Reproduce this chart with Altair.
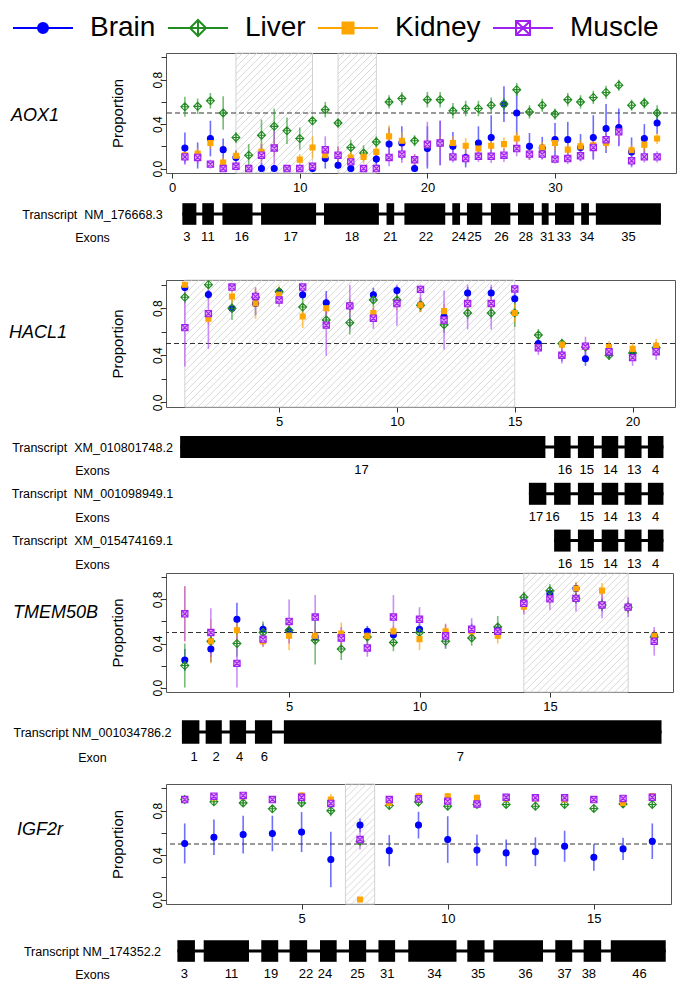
import json
import altair as alt
import pandas as pd

FONT = "Liberation Sans"
TISSUES = ["Brain", "Liver", "Kidney", "Muscle"]
STROKES = ["#0000FF", "#228B22", "#FFA500", "#A020F0"]
ERRCOLS = ["#2020FF", "#2E9A2E", "#FFA500", "#B050F5"]
PT_SHAPE = ["circle", "M0,-1L1,0L0,1L-1,0ZM0,-1V1M-1,0H1", "square",
            "M-1,-1H1V1H-1ZM-1,-1L1,1M1,-1L-1,1"]
PT_FILL = ["#0000FF", "transparent", "#FFA500", "#DDA8F7"]
PT_SIZE = [36, 64, 25, 40]
LEG_SHAPE = [
    "M-3,0H3M0.5,0A0.5,0.5,0,1,1,-0.5,0A0.5,0.5,0,1,1,0.5,0Z",
    "M-3,0H3M0,-0.8L0.8,0L0,0.8L-0.8,0ZM0,-0.8V0.8",
    "M-3,0H3M-0.55,-0.55H0.55V0.55H-0.55Z",
    "M-3,0H3M-0.7,-0.7H0.7V0.7H-0.7ZM-0.7,-0.7L0.7,0.7M0.7,-0.7L-0.7,0.7",
]
LEG_FILL = ["#0000FF", "#FFFFFF", "#FFA500", "transparent"]
YDOM = [-0.04, 1.04]

# ---------------- AOX1 ----------------
aox1_brain = [0.185, 0.115, 0.27, 0.17, 0.10, 0.0, 0.0, 0.0, 0.0, 0.0, 0.0, 0.09, 0.03, 0.0, 0.0, 0.085, 0.22, 0.23, 0.0,
              0.18, 0.23, 0.20, 0.10, 0.23, 0.28, 0.58, 0.50, 0.20, 0.185, 0.26, 0.26, 0.19, 0.28, 0.36, 0.37, 0.15, 0.27, 0.41]
aox1_liver = [0.556, 0.56, 0.61, 0.50, 0.28, 0.12, 0.30, 0.38, 0.34, 0.27, 0.43, 0.53, 0.41, 0.19, 0.14, 0.24, 0.60, 0.63, 0.25,
              0.62, 0.62, 0.52, 0.54, 0.54, 0.57, 0.58, 0.71, 0.51, 0.57, 0.49, 0.62, 0.60, 0.64, 0.685, 0.75, 0.57, 0.59, 0.50]
aox1_kidney = [0.12, 0.135, 0.23, 0.055, 0.115, 0.0, 0.15, 0.19, 0.0, 0.08, 0.19, 0.12, 0.115, 0.10, 0.105, 0.15, 0.29, 0.25, 0.08,
               0.21, 0.23, 0.23, 0.205, 0.18, 0.205, 0.22, 0.27, 0.13, 0.19, 0.23, 0.17, 0.20, 0.21, 0.23, 0.33, 0.165, 0.215, 0.27]
aox1_muscle = [0.105, 0.10, 0.04, 0.0, 0.02, 0.0, 0.12, 0.185, 0.0, 0.0, 0.02, 0.17, 0.12, 0.06, 0.0, 0.0, 0.10, 0.13, 0.08,
               0.22, 0.23, 0.105, 0.09, 0.11, 0.11, 0.12, 0.18, 0.13, 0.13, 0.085, 0.09, 0.115, 0.19, 0.26, 0.33, 0.07, 0.105, 0.105]
aox1_brain_err = [0.14, 0.12, 0.16, 0.10, 0.06, 0.02, 0.05, 0.02, 0.02, 0.02, 0.02, 0.10, 0.06, 0.05, 0.02, 0.06, 0.15, 0.15, 0.04,
                  0.20, 0.20, 0.13, 0.09, 0.15, 0.20, 0.16, 0.20, 0.12, 0.10, 0.15, 0.16, 0.12, 0.20, 0.22, 0.17, 0.13, 0.13, 0.10]
aox1_liver_err = [0.09, 0.07, 0.07, 0.15, 0.05, 0.10, 0.14, 0.16, 0.12, 0.10, 0.04, 0.07, 0.04, 0.07, 0.07, 0.05, 0.06, 0.06, 0.05,
                  0.07, 0.07, 0.07, 0.07, 0.07, 0.07, 0.06, 0.06, 0.06, 0.06, 0.05, 0.06, 0.06, 0.06, 0.06, 0.05, 0.05, 0.05, 0.07]
aox1_kidney_err = [0.05, 0.05, 0.05, 0.05, 0.05, 0.02, 0.08, 0.08, 0.02, 0.05, 0.10, 0.06, 0.08, 0.06, 0.06, 0.06, 0.10, 0.08, 0.05,
                   0.06, 0.06, 0.06, 0.07, 0.06, 0.06, 0.06, 0.06, 0.05, 0.05, 0.07, 0.06, 0.06, 0.06, 0.06, 0.06, 0.05, 0.06, 0.05]
aox1_muscle_err = [0.07, 0.06, 0.04, 0.03, 0.04, 0.02, 0.10, 0.20, 0.02, 0.02, 0.02, 0.12, 0.08, 0.06, 0.02, 0.02, 0.08, 0.08, 0.05,
                   0.20, 0.20, 0.05, 0.05, 0.05, 0.06, 0.06, 0.07, 0.05, 0.05, 0.04, 0.05, 0.05, 0.10, 0.07, 0.12, 0.06, 0.05, 0.05]
aox1_hatch = [(5, 11), (13, 16)]
aox1_ticks = [0, 10, 20, 30]
aox1_ex_start = [0.8, 2.36, 3.94, 6.97, 11.9, 16.8, 18.2, 21.95, 23.1, 24.98, 27.1, 28.96, 30.0, 32.05, 33.2]
aox1_ex_end = [1.9, 3.27, 6.3, 11.28, 16.2, 17.4, 21.4, 22.56, 24.3, 26.5, 28.35, 29.5, 31.5, 32.66, 38.3]
aox1_ex_name = ["3", "11", "16", "17", "18", "21", "22", "24", "25", "26", "28", "31", "33", "34", "35"]
aox1_ex_lab = [1.15, 2.8, 5.45, 9.3, 14.1, 17.1, 19.9, 22.45, 23.7, 25.8, 27.7, 29.4, 30.7, 32.5, 35.75]

# ---------------- HACL1 ----------------
hacl1_brain = [0.976, 0.917, 0.80, 0.84, 0.94, 0.914, 0.846, 0.82, 0.914, 0.95, 0.83, 0.73, 0.93, 0.93, 0.88, 0.50, 0.40, 0.37, 0.42, 0.42, 0.463]
hacl1_liver = [0.893, 1.0, 0.80, 0.893, 0.94, 0.81, 0.70, 0.677, 0.87, 0.87, 0.825, 0.66, 0.76, 0.76, 0.76, 0.573, 0.50, 0.47, 0.40, 0.42, 0.463]
hacl1_kidney = [1.0, 0.71, 0.90, 0.84, 0.914, 0.73, 0.80, 0.82, 0.76, 0.84, 0.825, 0.775, 0.84, 0.84, 0.76, 0.47, 0.49, 0.47, 0.47, 0.454, 0.48]
hacl1_muscle = [0.635, 0.754, 0.98, 0.90, 0.87, 0.98, 0.656, 0.82, 0.715, 0.84, 0.96, 0.70, 0.84, 0.84, 0.964, 0.463, 0.40, 0.478, 0.43, 0.38, 0.43]
hacl1_brain_err = [0.03, 0.04, 0.04, 0.10, 0.04, 0.04, 0.10, 0.05, 0.06, 0.04, 0.06, 0.07, 0.05, 0.05, 0.05, 0.05, 0.05, 0.06, 0.05, 0.05, 0.05]
hacl1_liver_err = [0.05, 0.03, 0.10, 0.05, 0.04, 0.08, 0.06, 0.10, 0.06, 0.05, 0.05, 0.07, 0.05, 0.05, 0.12, 0.05, 0.04, 0.04, 0.04, 0.04, 0.04]
hacl1_kidney_err = [0.03, 0.05, 0.06, 0.13, 0.08, 0.10, 0.06, 0.06, 0.06, 0.06, 0.06, 0.06, 0.06, 0.06, 0.08, 0.04, 0.04, 0.04, 0.05, 0.05, 0.06]
hacl1_muscle_err = [0.33, 0.30, 0.04, 0.08, 0.06, 0.04, 0.26, 0.20, 0.09, 0.19, 0.10, 0.25, 0.22, 0.22, 0.08, 0.06, 0.07, 0.08, 0.06, 0.07, 0.07]
hacl1_hatch = [(1, 15)]
hacl1_ticks = [5, 10, 15, 20]
hacl1_small_start = [16.67, 17.68, 18.69, 19.66, 20.65]
hacl1_small_end = [17.37, 18.36, 19.39, 20.38, 21.31]
hacl1_small_name = ["16", "15", "14", "13", "4"]
hacl1_small_lab = [17.13, 18.05, 19.06, 20.07, 20.98]
hacl1_t1_exon17 = (0.8, 16.3, 8.5)
hacl1_t2_exon17 = (15.6, 16.34, 15.9)

# ---------------- TMEM50B ----------------
tmem_brain = [0.25, 0.35, 0.62, 0.53, 0.51, 0.46, 0.47, 0.51, 0.48, 0.53, 0.47, 0.53, 0.52, 0.775, 0.85, 0.90, 0.75, 0.73, 0.47]
tmem_liver = [0.20, 0.42, 0.40, 0.50, 0.52, 0.43, 0.35, 0.46, 0.41, 0.50, 0.42, 0.45, 0.55, 0.82, 0.88, 0.81, 0.75, 0.73, 0.46]
tmem_kidney = [0.67, 0.42, 0.52, 0.42, 0.47, 0.47, 0.49, 0.47, 0.51, 0.44, 0.51, 0.51, 0.47, 0.735, 0.81, 0.90, 0.88, 0.73, 0.47]
tmem_muscle = [0.67, 0.50, 0.22, 0.44, 0.60, 0.64, 0.45, 0.36, 0.64, 0.62, 0.47, 0.53, 0.51, 0.765, 0.805, 0.81, 0.75, 0.73, 0.42]
tmem_brain_err = [0.10, 0.12, 0.15, 0.05, 0.05, 0.05, 0.05, 0.05, 0.05, 0.05, 0.06, 0.05, 0.06, 0.06, 0.05, 0.05, 0.06, 0.05, 0.05]
tmem_liver_err = [0.20, 0.06, 0.12, 0.10, 0.04, 0.22, 0.10, 0.07, 0.08, 0.06, 0.07, 0.07, 0.10, 0.05, 0.06, 0.05, 0.05, 0.05, 0.05]
tmem_kidney_err = [0.25, 0.20, 0.12, 0.05, 0.13, 0.06, 0.10, 0.05, 0.05, 0.10, 0.06, 0.05, 0.07, 0.05, 0.05, 0.06, 0.07, 0.05, 0.05]
tmem_muscle_err = [0.25, 0.22, 0.25, 0.07, 0.20, 0.20, 0.10, 0.08, 0.20, 0.11, 0.11, 0.10, 0.07, 0.10, 0.10, 0.12, 0.12, 0.09, 0.13]
tmem_hatch = [(14, 18)]
tmem_ticks = [5, 10, 15]
tmem_ex_start = [0.89, 1.8, 2.72, 3.69, 4.8]
tmem_ex_end = [1.56, 2.42, 3.35, 4.35, 19.28]
tmem_ex_name = ["1", "2", "4", "6", "7"]
tmem_ex_lab = [1.36, 2.2, 3.1, 4.05, 11.57]

# ---------------- IGF2r ----------------
igf_brain = [0.505, 0.56, 0.585, 0.595, 0.607, 0.36, 0.67, 0.44, 0.67, 0.54, 0.445, 0.42, 0.43, 0.48, 0.38, 0.456, 0.525]
igf_liver = [0.90, 0.88, 0.87, 0.817, 0.87, 0.80, 0.525, 0.847, 0.877, 0.84, 0.856, 0.856, 0.84, 0.856, 0.82, 0.86, 0.856]
igf_kidney = [0.90, 0.92, 0.93, 0.90, 0.937, 0.90, 0.0, 0.87, 0.93, 0.93, 0.916, 0.91, 0.91, 0.90, 0.90, 0.87, 0.93]
igf_muscle = [0.90, 0.93, 0.937, 0.90, 0.92, 0.865, 0.54, 0.90, 0.907, 0.886, 0.86, 0.92, 0.916, 0.916, 0.90, 0.91, 0.92]
igf_brain_err = [0.18, 0.16, 0.17, 0.16, 0.18, 0.25, 0.06, 0.14, 0.12, 0.21, 0.14, 0.12, 0.13, 0.14, 0.12, 0.10, 0.16]
igf_liver_err = [0.02, 0.03, 0.03, 0.03, 0.03, 0.05, 0.03, 0.03, 0.03, 0.03, 0.03, 0.03, 0.03, 0.03, 0.03, 0.03, 0.03]
igf_kidney_err = [0.02, 0.03, 0.03, 0.03, 0.03, 0.05, 0.0, 0.03, 0.03, 0.03, 0.03, 0.03, 0.03, 0.03, 0.03, 0.03, 0.03]
igf_muscle_err = [0.02, 0.03, 0.03, 0.03, 0.03, 0.05, 0.09, 0.03, 0.03, 0.03, 0.03, 0.03, 0.03, 0.03, 0.03, 0.03, 0.03]
igf_hatch = [(6.5, 7.5)]
igf_ticks = [5, 10, 15]
igf_ex_start = [0.75, 1.65, 3.62, 4.59, 5.63, 6.62, 7.63, 8.65, 10.67, 11.56, 13.68, 14.65, 15.58]
igf_ex_end = [1.35, 3.20, 4.20, 5.19, 6.20, 7.21, 8.20, 10.30, 11.26, 13.26, 14.26, 15.25, 17.46]
igf_ex_name = ["3", "11", "19", "22", "24", "25", "31", "34", "35", "36", "37", "38", "46"]
igf_ex_lab = [0.99, 2.60, 3.95, 5.15, 5.8, 6.91, 7.93, 9.55, 11.04, 12.66, 14.0, 14.83, 16.56]


def gene_df(vals, errs):
    rows = []
    for t, vl, el in zip(TISSUES, vals, errs):
        for i, (v, e) in enumerate(zip(vl, el)):
            rows.append({"pos": i + 1, "tissue": t, "prop": v,
                         "lo": max(0.0, v - e), "hi": min(1.0, v + e)})
    return pd.DataFrame(rows)


def hatch_lines(regions, dom, width, height, step=7.0):
    pxu = width / (dom[1] - dom[0])
    pyu = height / (YDOM[1] - YDOM[0])
    out = []
    for a, b in regions:
        u0 = (a - dom[0]) * pxu
        u1 = (b - dom[0]) * pxu
        c = u0 - height
        while c < u1:
            us = max(u0, c)
            ue = min(u1, c + height)
            if ue > us:
                out.append({"hx": dom[0] + us / pxu, "hy": YDOM[0] + (us - c) / pyu,
                            "hx2": dom[0] + ue / pxu, "hy2": YDOM[0] + (ue - c) / pyu})
            c += step
    return pd.DataFrame(out)


def plot_panel(name, vals, errs, dom, ticks, hatch, width, height, title_dy, title_off, legend=False):
    df = gene_df(vals, errs)
    xs = alt.Scale(domain=dom, nice=False, zero=False)
    ys = alt.Scale(domain=YDOM, nice=False, zero=False)
    xax = alt.Axis(values=ticks, title=None, grid=False, domain=False, tickSize=5, tickColor="#333333",
                   labelPadding=3, labelFontSize=13, labelFont=FONT, labelColor="black",
                   labelFlush=False, format="d")
    yax = alt.Axis(values=[0, 0.2, 0.4, 0.6, 0.8, 1.0],
                   labelExpr="(abs(datum.value)<0.001 || abs(datum.value-0.4)<0.001 || abs(datum.value-0.8)<0.001) ? format(datum.value, '.1f') : ''",
                   title="Proportion", titleFontSize=15, titleFont=FONT, titleFontWeight="normal",
                   titleColor="black", titlePadding=26, labelAngle=270, labelAlign="center",
                   labelBaseline="alphabetic", labelPadding=0, labelFontSize=12, labelFont=FONT,
                   labelColor="black", tickSize=5, tickColor="#333333", domain=False, grid=False,
                   labelFlush=False, labelOverlap=False)
    layers = []
    hreg = pd.DataFrame([{"a": a, "b": b, "y0": YDOM[0], "y1": YDOM[1]} for a, b in hatch])
    layers.append(alt.Chart(hreg).mark_rect(fillOpacity=0, stroke="#d2d2d2", strokeWidth=1).encode(
        x=alt.X("a:Q", scale=xs, axis=xax), x2="b:Q",
        y=alt.Y("y0:Q", scale=ys, axis=yax), y2="y1:Q"))
    hl = hatch_lines(hatch, dom, width, height)
    layers.append(alt.Chart(hl).mark_rule(color="#cfcfcf", strokeWidth=0.8).encode(
        x=alt.X("hx:Q", scale=xs, axis=xax), x2="hx2:Q",
        y=alt.Y("hy:Q", scale=ys, axis=yax), y2="hy2:Q"))
    layers.append(alt.Chart(pd.DataFrame({"ref": [0.5]})).mark_rule(
        color="#333333", strokeDash=[5, 3], strokeWidth=1).encode(
        y=alt.Y("ref:Q", scale=ys, axis=yax)))
    for t, ec in zip(TISSUES, ERRCOLS):
        layers.append(alt.Chart(df[df.tissue == t]).mark_rule(color=ec, strokeWidth=1.6, opacity=0.65).encode(
            x=alt.X("pos:Q", scale=xs, axis=xax),
            y=alt.Y("lo:Q", scale=ys, axis=yax), y2="hi:Q"))
    for t, sc, sh, fc, sz in zip(TISSUES, STROKES, PT_SHAPE, PT_FILL, PT_SIZE):
        layers.append(alt.Chart(df[df.tissue == t]).mark_point(
            shape=sh, size=sz, stroke=sc, fill=fc, strokeWidth=1.1, opacity=1, filled=False).encode(
            x=alt.X("pos:Q", scale=xs, axis=xax),
            y=alt.Y("prop:Q", scale=ys, axis=yax)))
    if legend:
        leg = alt.Legend(orient="none", legendX=-137, legendY=-39, direction="horizontal", title=None,
                         labelFontSize=28, labelFont=FONT, labelColor="black", symbolSize=400,
                         symbolStrokeWidth=2, labelOffset=33, columnPadding=8, padding=0,
                         labelLimit=300, symbolOpacity=1)
        ldf = pd.DataFrame({"tissue": TISSUES, "lx": [dom[1] + 50] * 4, "ly": [0.5] * 4})
        layers.append(alt.Chart(ldf).mark_point(clip=True, size=400, strokeWidth=2, opacity=1, filled=False).encode(
            x=alt.X("lx:Q", scale=xs, axis=xax),
            y=alt.Y("ly:Q", scale=ys, axis=yax),
            stroke=alt.Stroke("tissue:N", scale=alt.Scale(domain=TISSUES, range=STROKES), legend=leg),
            fill=alt.Fill("tissue:N", scale=alt.Scale(domain=TISSUES, range=LEG_FILL), legend=leg),
            shape=alt.Shape("tissue:N", scale=alt.Scale(domain=TISSUES, range=LEG_SHAPE), legend=leg)))
    title = alt.TitleParams(text=name, orient="left", angle=0, align="left", baseline="middle",
                            anchor="middle", frame="group", offset=title_off, dy=title_dy, fontSize=18,
                            fontStyle="italic", fontWeight="normal", font=FONT, color="black")
    return alt.layer(*layers).properties(
        width=width, height=height, title=title,
        view=alt.ViewBackground(stroke="#555555", strokeWidth=1))


def transcript_panel(dom, width, height, row_off, row_gap, row_labels, exons, labels, introns):
    xs = alt.Scale(domain=dom, nice=False, zero=False)
    top = -row_off / row_gap
    bottom = (height - row_off) / row_gap
    ys = alt.Scale(domain=[top, bottom], nice=False, zero=False, reverse=True)
    expr = json.dumps(row_labels) + "[datum.value]"
    yax = alt.Axis(values=list(range(len(row_labels))), labelExpr=expr, title=None, domain=False,
                   ticks=False, tickSize=0, grid=False, labelPadding=74, labelAlign="center",
                   labelBaseline="middle", labelFontSize=12.5, labelFont=FONT, labelColor="black",
                   labelLimit=400, labelOverlap=False, labelFlush=False)
    ex = pd.DataFrame(exons, columns=["row", "s", "e"])
    ex["y0"] = ex["row"] - 0.47
    ex["y1"] = ex["row"] + 0.47
    lab = pd.DataFrame(labels, columns=["row", "p", "txt"])
    intr = pd.DataFrame(introns, columns=["row", "s", "e"])
    l1 = alt.Chart(intr).mark_rule(color="black", strokeWidth=3).encode(
        x=alt.X("s:Q", scale=xs, axis=None), x2="e:Q",
        y=alt.Y("row:Q", scale=ys, axis=yax))
    l2 = alt.Chart(ex).mark_rect(color="black").encode(
        x=alt.X("s:Q", scale=xs, axis=None), x2="e:Q",
        y=alt.Y("y0:Q", scale=ys, axis=yax), y2="y1:Q")
    l3 = alt.Chart(lab).mark_text(fontSize=13, font=FONT, color="black", baseline="middle").encode(
        x=alt.X("p:Q", scale=xs, axis=None),
        y=alt.Y("row:Q", scale=ys, axis=yax), text="txt:N")
    return alt.layer(l1, l2, l3).properties(
        width=width, height=height, view=alt.ViewBackground(strokeOpacity=0))


# ---- build panels ----
AOX1_DOM = [-0.48, 39.48]
HACL1_DOM = [0.2, 21.8]
TMEM_DOM = [0.28, 19.72]
IGF_DOM = [0.36, 17.64]

p1 = plot_panel("AOX1", [aox1_brain, aox1_liver, aox1_kidney, aox1_muscle],
                [aox1_brain_err, aox1_liver_err, aox1_kidney_err, aox1_muscle_err],
                AOX1_DOM, aox1_ticks, aox1_hatch, 510, 120, 3, 51, legend=True)
t1 = transcript_panel(AOX1_DOM, 510, 83, 19, 23,
                      ["Transcript\u00a0 NM_176668.3", "Exons"],
                      [(0, s, e) for s, e in zip(aox1_ex_start, aox1_ex_end)],
                      [(1, p, n) for p, n in zip(aox1_ex_lab, aox1_ex_name)],
                      [(0, aox1_ex_start[0], aox1_ex_end[-1])])

hacl_ex = [(0, hacl1_t1_exon17[0], hacl1_t1_exon17[1])]
hacl_ex += [(0, s, e) for s, e in zip(hacl1_small_start, hacl1_small_end)]
hacl_ex += [(2, hacl1_t2_exon17[0], hacl1_t2_exon17[1])]
hacl_ex += [(2, s, e) for s, e in zip(hacl1_small_start, hacl1_small_end)]
hacl_ex += [(4, s, e) for s, e in zip(hacl1_small_start, hacl1_small_end)]
hacl_lab = [(1, hacl1_t1_exon17[2], "17")] + [(1, p, n) for p, n in zip(hacl1_small_lab, hacl1_small_name)]
hacl_lab += [(3, hacl1_t2_exon17[2], "17")] + [(3, p, n) for p, n in zip([16.6] + hacl1_small_lab[1:], hacl1_small_name)]
hacl_lab += [(5, p, n) for p, n in zip(hacl1_small_lab, hacl1_small_name)]
hacl_intr = [(0, hacl1_t1_exon17[0], hacl1_small_end[-1]), (2, hacl1_t2_exon17[0], hacl1_small_end[-1]),
             (4, hacl1_small_start[0], hacl1_small_end[-1])]

p2 = plot_panel("HACL1", [hacl1_brain, hacl1_liver, hacl1_kidney, hacl1_muscle],
                [hacl1_brain_err, hacl1_liver_err, hacl1_kidney_err, hacl1_muscle_err],
                HACL1_DOM, hacl1_ticks, hacl1_hatch, 509, 127, -11, 43)
t2 = transcript_panel(HACL1_DOM, 509, 143, 18, 23.4,
                      ["Transcript\u00a0 XM_010801748.2", "Exons", "Transcript\u00a0 NM_001098949.1", "Exons",
                       "Transcript\u00a0 XM_015474169.1", "Exons"],
                      hacl_ex, hacl_lab, hacl_intr)

p3 = plot_panel("TMEM50B", [tmem_brain, tmem_liver, tmem_kidney, tmem_muscle],
                [tmem_brain_err, tmem_liver_err, tmem_kidney_err, tmem_muscle_err],
                TMEM_DOM, tmem_ticks, tmem_hatch, 507, 119, -20, 12)
t3 = transcript_panel(TMEM_DOM, 507, 69, 18, 25,
                      ["Transcript NM_001034786.2", "Exon"],
                      [(0, s, e) for s, e in zip(tmem_ex_start, tmem_ex_end)],
                      [(1, p, n) for p, n in zip(tmem_ex_lab, tmem_ex_name)],
                      [(0, tmem_ex_start[0], tmem_ex_end[-1])])

p4 = plot_panel("IGF2r", [igf_brain, igf_liver, igf_kidney, igf_muscle],
                [igf_brain_err, igf_liver_err, igf_kidney_err, igf_muscle_err],
                IGF_DOM, igf_ticks, igf_hatch, 505, 120, -14, 47)
t4 = transcript_panel(IGF_DOM, 505, 54, 25, 23,
                      ["Transcript NM_174352.2", "Exons"],
                      [(0, s, e) for s, e in zip(igf_ex_start, igf_ex_end)],
                      [(1, p, n) for p, n in zip(igf_ex_lab, igf_ex_name)],
                      [(0, igf_ex_start[0], igf_ex_end[-1])])

chart = alt.vconcat(p1, t1, p2, t2, p3, t3, p4, t4, spacing=0).properties(
    padding={"top": 6, "left": 0, "right": 0, "bottom": 0}).configure(font=FONT)

chart.save("out.html", embed_options={"renderer": "svg", "actions": False})
